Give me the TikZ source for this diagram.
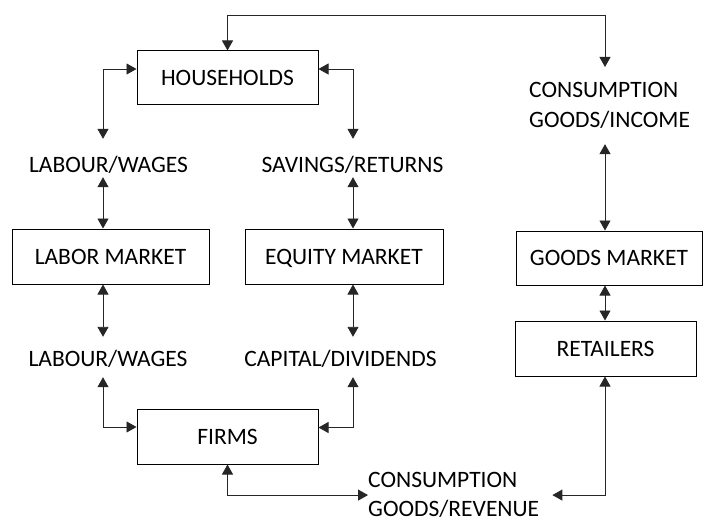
\documentclass[tikz,border=0pt]{standalone}
\usepackage{fontspec}
\setmainfont{Carlito}
\usetikzlibrary{arrows.meta}

\tikzset{
  box/.style={draw=black, line width=1pt, inner sep=0pt, minimum width=181pt, minimum height=55pt,
    text height=15pt, text depth=0pt},
  flow/.style={{Triangle[length=10pt,width=11pt]}-{Triangle[length=10pt,width=11pt]}, line width=0.9pt, draw=black!85},
  lbl/.style={inner sep=0pt},
  lbltop/.style={lbl, anchor=base, text height=33pt, text depth=5pt},
  lblbot/.style={lbl, anchor=base, text height=29pt, text depth=11pt},
  lblblock/.style={lbl, inner ysep=15pt, align=left}
}

\begin{document}
\begin{tikzpicture}[x=1pt, y=-1pt, font=\fontsize{23.5pt}{30.5pt}\selectfont]
  \useasboundingbox (0,0) rectangle (704,524);

  \coordinate (lcol) at (103,0);
  \coordinate (rcol) at (353,0);
  \coordinate (gcol) at (605,0);
  \coordinate (loop) at (605,15);

  \node[box, minimum height=54pt] (hh) at (227.5,78) {HOUSEHOLDS};
  \node[box, minimum width=197pt] (lm) at (110.5,256.5) {LABOR MARKET};
  \node[box, minimum width=198pt] (em) at (344,256.5) {EQUITY MARKET};
  \node[box, minimum width=186pt, minimum height=54pt] (gm) at (609,258) {GOODS MARKET};
  \node[box] (rt) at (605.5,348.5) {RETAILERS};
  \node[box] (fm) at (227.5,436.5) {FIRMS};

  \node[lbltop] (lw1) at (108.5,172) {LABOUR/WAGES};
  \node[lbltop] (sr) at (352.5,172) {SAVINGS/RETURNS};
  \node[lblbot] (lw2) at (108,366) {LABOUR/WAGES};
  \node[lblbot] (cd) at (340.5,366) {CAPITAL/DIVIDENDS};
  \node[lblblock, anchor=north west] (cgi) at (529,67) {CONSUMPTION\\GOODS/INCOME};
  \node[lbl, align=left, text width=184pt, anchor=north west, font=\fontsize{23.5pt}{29.5pt}\selectfont]
    (cgr) at (368,472) {CONSUMPTION\\GOODS/REVENUE};

  \draw[flow] (hh.north) |- (loop) -- (loop |- cgi.north);
  \draw[flow] ([yshift=9pt]hh.west) -| (lw1.north -| lcol);
  \draw[flow] ([yshift=9pt]hh.east) -| (sr.north -| rcol);
  \foreach \a/\b/\c in {lw1/lm/lcol, sr/em/rcol, lm/lw2/lcol, em/cd/rcol, cgi/gm/gcol, gm/rt/gcol}
    \draw[flow] (\a.south -| \c) -- (\b.north -| \c);
  \draw[flow] (lw2.south -| lcol) |- ([yshift=9.5pt]fm.west);
  \draw[flow] (cd.south -| rcol) |- ([yshift=9pt]fm.east);
  \draw[flow] (fm.south) |- (cgr.west);
  \draw[flow] (rt.south -| gcol) |- (cgr.east);
\end{tikzpicture}
\end{document}
